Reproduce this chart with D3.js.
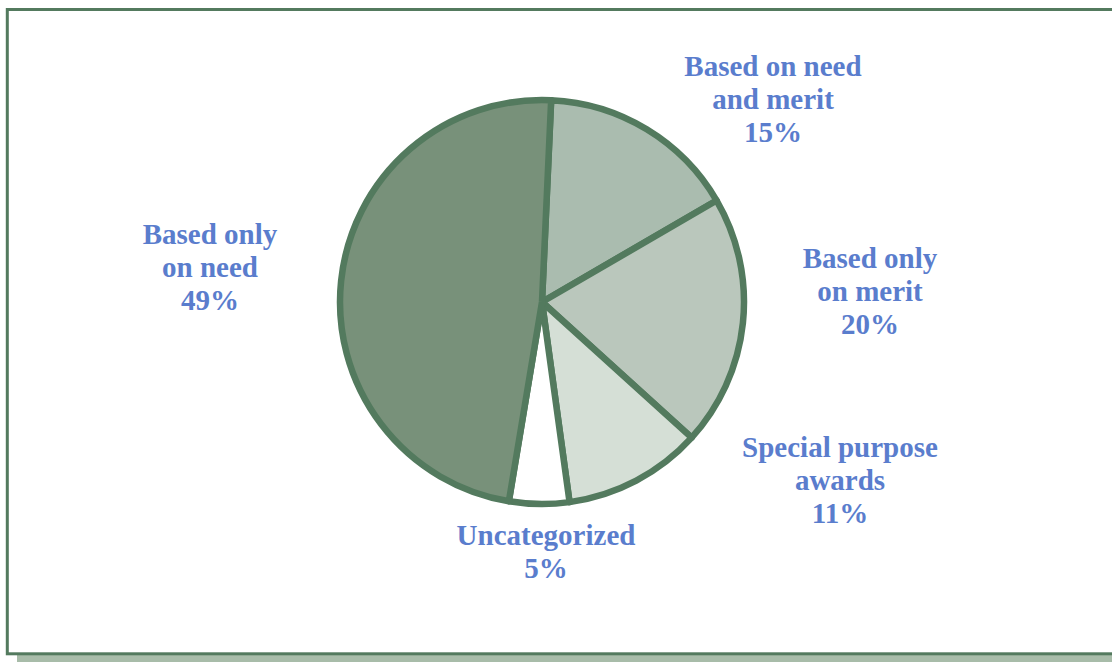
<!DOCTYPE html>
<html>
<head>
<meta charset="utf-8">
<script src="https://cdn.jsdelivr.net/npm/d3@7"></script>
<style>
  body { margin: 0; background: #ffffff; }
  svg { display: block; }
  .lbl { font-family: "Liberation Serif", "Times New Roman", serif; font-weight: bold; font-size: 29px; fill: #5a7dcd; }
</style>
</head>
<body>
<div id="chart"></div>
<script>
// slices, clockwise from the top
var categories = ["Based on need and merit", "Based only on merit", "Special purpose awards", "Uncategorized", "Based only on need"];
var values = [15.9, 20.1, 11.1, 4.8, 48.1];
var pctLabels = ["15%", "20%", "11%", "5%", "49%"];
var labelLines = [["Based on need", "and merit"], ["Based only", "on merit"], ["Special purpose", "awards"], ["Uncategorized"], ["Based only", "on need"]];
var colors = ["#aabcaf", "#bac7bc", "#d5dfd6", "#ffffff", "#78917a"];

var width = 1112, height = 662;
var cx = 542, cy = 302, radius = 202;

// label block centres relative to pie centre
var labelPos = [[231, -203], [328, -11], [298, 178], [4, 249], [-332, -35]];

var svg = d3.select("#chart").append("svg")
  .attr("width", width)
  .attr("height", height);

// frame + shadow
svg.append("rect").attr("x", 17).attr("y", 655).attr("width", width).attr("height", 10).attr("fill", "#a8bca9");
svg.append("rect")
  .attr("x", 7.3).attr("y", 9.5)
  .attr("width", width + 20).attr("height", 644.3)
  .attr("fill", "#ffffff")
  .attr("stroke", "#537a5e")
  .attr("stroke-width", 3);

var pie = d3.pie().sort(null)
  .startAngle(2.6 * Math.PI / 180)
  .endAngle(2.6 * Math.PI / 180 + 2 * Math.PI);
var arc = d3.arc().innerRadius(0).outerRadius(radius);

var g = svg.append("g").attr("transform", "translate(" + cx + "," + cy + ")");

g.selectAll("path")
  .data(pie(values))
  .enter()
  .append("path")
  .attr("d", arc)
  .attr("fill", function(d, i) { return colors[i]; })
  .attr("stroke", "#537a5e")
  .attr("stroke-width", 6.5)
  .attr("stroke-linejoin", "round");

var lineH = 33;
labelLines.forEach(function(lines, i) {
  var all = lines.concat([pctLabels[i]]);
  var top = labelPos[i][1] - (all.length - 1) * lineH / 2;
  var t = g.append("text")
    .attr("class", "lbl")
    .attr("text-anchor", "middle")
    .attr("x", labelPos[i][0]);
  all.forEach(function(s, j) {
    t.append("tspan")
      .attr("x", labelPos[i][0])
      .attr("y", top + j * lineH)
      .attr("dy", "0.35em")
      .text(s);
  });
});
</script>
</body>
</html>
